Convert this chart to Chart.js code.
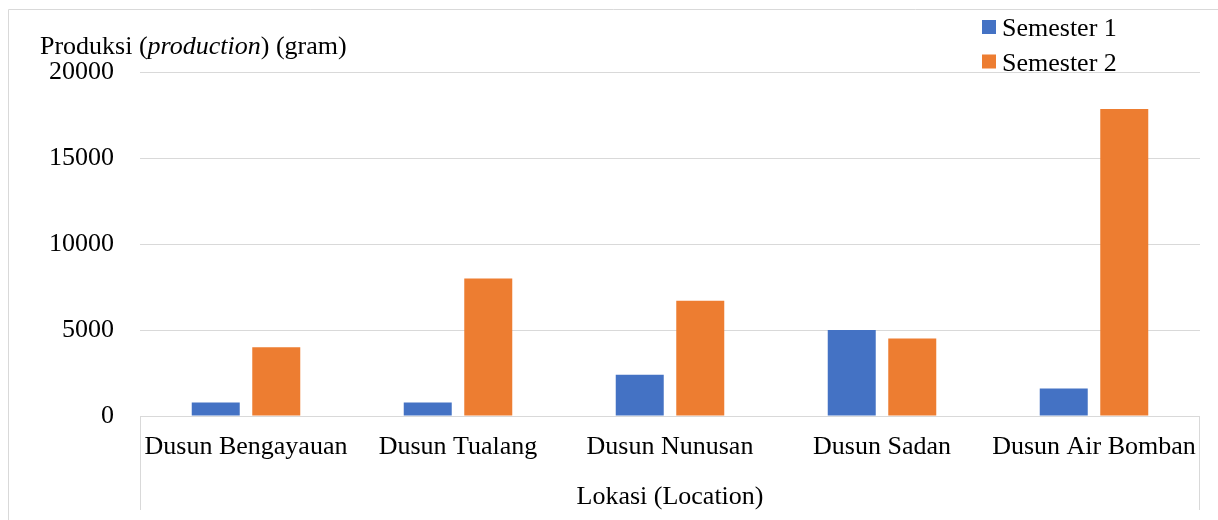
<!DOCTYPE html>
<html>
<head>
<meta charset="utf-8">
<script src="https://cdn.jsdelivr.net/npm/chart.js@4/dist/chart.umd.min.js"></script>
<style>
  html, body { margin: 0; padding: 0; background: #ffffff; }
  #wrap { position: relative; width: 1218px; height: 520px; }
  canvas { display: block; }
</style>
</head>
<body>
<div id="wrap"><canvas id="c" width="1218" height="520"></canvas></div>
<script>
// Village names along the category axis
const categories = ['Dusun Bengayauan', 'Dusun Tualang', 'Dusun Nunusan', 'Dusun Sadan', 'Dusun Air Bomban'];
// Production per semester, in grams
const semester1 = [780, 780, 2400, 5000, 1600];
const semester2 = [4000, 8000, 6700, 4500, 17850];
const seriesNames = ['Semester 1', 'Semester 2'];
const seriesColors = ['#4472C4', '#ED7D31'];
// Value axis ticks
const yTicks = [0, 5000, 10000, 15000, 20000];
const yTitleParts = [['Produksi (', false], ['production', true], [') (gram)', false]];
const xTitle = 'Lokasi (Location)';

const FONT = '"Liberation Serif", "Times New Roman", serif';
const FS = 26;
const GRID = '#d9d9d9';

// Frame, y-axis caption, category box and legend drawn on the canvas
const decorations = {
  id: 'decorations',
  beforeDraw(chart) {
    const ctx = chart.ctx;
    ctx.save();
    ctx.strokeStyle = GRID;
    ctx.lineWidth = 1;
    ctx.beginPath();
    ctx.moveTo(8.5, 520);
    ctx.lineTo(8.5, 9.5);
    ctx.lineTo(1218, 9.5);
    ctx.stroke();
    ctx.restore();
  },
  afterDraw(chart) {
    const ctx = chart.ctx;
    const area = chart.chartArea;
    const y0 = chart.scales.y.getPixelForValue(0);
    ctx.save();
    // category box sides
    ctx.strokeStyle = GRID;
    ctx.lineWidth = 1;
    ctx.beginPath();
    ctx.moveTo(Math.round(area.left) + 0.5, Math.round(y0));
    ctx.lineTo(Math.round(area.left) + 0.5, 510);
    ctx.moveTo(Math.round(area.right) - 0.5, Math.round(y0));
    ctx.lineTo(Math.round(area.right) - 0.5, 510);
    ctx.stroke();

    // value axis caption with italic middle part
    ctx.fillStyle = '#000000';
    ctx.textBaseline = 'alphabetic';
    ctx.textAlign = 'left';
    let x = 40;
    for (const [txt, ital] of yTitleParts) {
      ctx.font = (ital ? 'italic ' : '') + FS + 'px ' + FONT;
      ctx.fillText(txt, x, 54);
      x += ctx.measureText(txt).width;
    }

    // legend
    ctx.font = FS + 'px ' + FONT;
    chart.data.datasets.forEach((ds, i) => {
      const top = 20 + i * 34.5;
      ctx.fillStyle = ds.backgroundColor;
      ctx.fillRect(982, top, 14, 14);
      ctx.fillStyle = '#000000';
      ctx.fillText(ds.label, 1002, top + 16);
    });
    ctx.restore();
  }
};

new Chart(document.getElementById('c'), {
  type: 'bar',
  data: {
    labels: categories,
    datasets: [
      { label: seriesNames[0], data: semester1, backgroundColor: seriesColors[0] },
      { label: seriesNames[1], data: semester2, backgroundColor: seriesColors[1] }
    ]
  },
  options: {
    responsive: false,
    animation: false,
    devicePixelRatio: 1,
    categoryPercentage: 0.571,
    barPercentage: 0.793,
    layout: { padding: { top: 72, right: 18, bottom: 0, left: 0 } },
    plugins: {
      legend: { display: false },
      tooltip: { enabled: false },
      title: { display: false }
    },
    scales: {
      x: {
        grid: { display: false, drawTicks: false },
        border: { display: false },
        ticks: {
          color: '#000000',
          font: { family: FONT, size: FS },
          padding: 16,
          maxRotation: 0,
          autoSkip: false
        },
        title: {
          display: true,
          text: xTitle,
          color: '#000000',
          font: { family: FONT, size: FS },
          padding: { top: 0, bottom: 7 }
        },
        afterFit(scale) { scale.height = 104; }
      },
      y: {
        min: 0,
        max: 20000,
        afterBuildTicks(scale) { scale.ticks = yTicks.map(v => ({ value: v })); },
        grid: { color: GRID, lineWidth: 1, drawTicks: false },
        border: { display: false },
        ticks: {
          color: '#000000',
          font: { family: FONT, size: FS },
          padding: 26,
          callback: (v) => String(v)
        },
        afterFit(scale) { scale.width = 140; }
      }
    }
  },
  plugins: [decorations]
});
</script>
</body>
</html>
